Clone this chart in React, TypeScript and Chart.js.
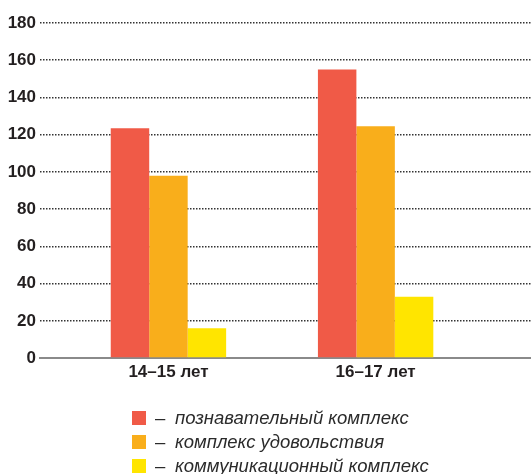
import React, { useEffect, useRef } from "react";
import { Chart, registerables } from "chart.js";

Chart.register(...registerables);

const categories = ["14–15 лет", "16–17 лет"];
const categoryIndex = [1, 2];
const seriesNames = [
  "познавательный комплекс",
  "комплекс удовольствия",
  "коммуникационный комплекс",
];
const cognitive = [123.5, 155];
const pleasure = [98, 124.5];
const communication = [16, 33];
const seriesColors = ["#F05A47", "#F9AE1B", "#FFE500"];
const yTicks = [0, 20, 40, 60, 80, 100, 120, 140, 160, 180];

const FONT = '"Liberation Sans", Arial, Helvetica, sans-serif';

export default function App() {
  const ref = useRef<HTMLCanvasElement | null>(null);

  useEffect(() => {
    if (!ref.current) return;
    const seriesValues = [cognitive, pleasure, communication];
    const chart = new Chart(ref.current, {
      type: "bar",
      data: {
        datasets: seriesNames.map((name, s) => ({
          label: name,
          data: categoryIndex.map((x, i) => ({ x, y: seriesValues[s][i] })),
          backgroundColor: seriesColors[s],
          borderWidth: 0,
          categoryPercentage: 0.557,
          barPercentage: 1,
        })),
      },
      options: {
        responsive: false,
        animation: false,
        layout: { padding: { top: 23, bottom: 87.5, left: 0, right: 0 } },
        plugins: { legend: { display: false }, tooltip: { enabled: false } },
        scales: {
          x: {
            type: "linear",
            offset: false,
            min: 0.38,
            max: 2.75,
            afterBuildTicks: (scale: any) => {
              scale.ticks = categoryIndex.map((v) => ({ value: v }));
            },
            grid: { display: false, drawTicks: false },
            border: { display: true, color: "#8a8a8a", width: 2 },
            ticks: {
              autoSkip: false,
              maxRotation: 0,
              padding: 4,
              color: "#231f20",
              font: { family: FONT, size: 17, weight: "bold" },
              callback: (_v: any, i: number) => categories[i],
            },
          },
          y: {
            min: 0,
            max: 180,
            afterFit: (scale: any) => {
              scale.width = 40;
            },
            afterBuildTicks: (scale: any) => {
              scale.ticks = yTicks.map((v) => ({ value: v }));
            },
            grid: {
              color: "#333",
              lineWidth: 1.5,
              drawTicks: false,
            },
            border: { display: false, dash: [1.5, 1.5] },
            ticks: {
              padding: 4,
              color: "#231f20",
              font: { family: FONT, size: 17, weight: "bold" },
            },
          },
        },
      },
    } as any);
    return () => chart.destroy();
  }, []);

  return (
    <div style={{ position: "fixed", left: 0, top: 0, width: 531, height: 474, background: "#fff" }}>
      <canvas ref={ref} width={531} height={474} style={{ position: "absolute", left: 0, top: 0 }} />
      <div style={{ position: "absolute", left: 132, top: 406, fontFamily: FONT, fontStyle: "italic", fontSize: 18.5, color: "#2b2b2b" }}>
        {seriesNames.map((name, i) => (
          <div key={name} style={{ display: "flex", alignItems: "center", height: 24, whiteSpace: "nowrap" }}>
            <span style={{ display: "inline-block", width: 14, height: 14, background: seriesColors[i], marginRight: 9 }} />
            <span style={{ display: "inline-block", width: 20, fontStyle: "normal" }}>–</span>
            <span>{name}</span>
          </div>
        ))}
      </div>
    </div>
  );
}
